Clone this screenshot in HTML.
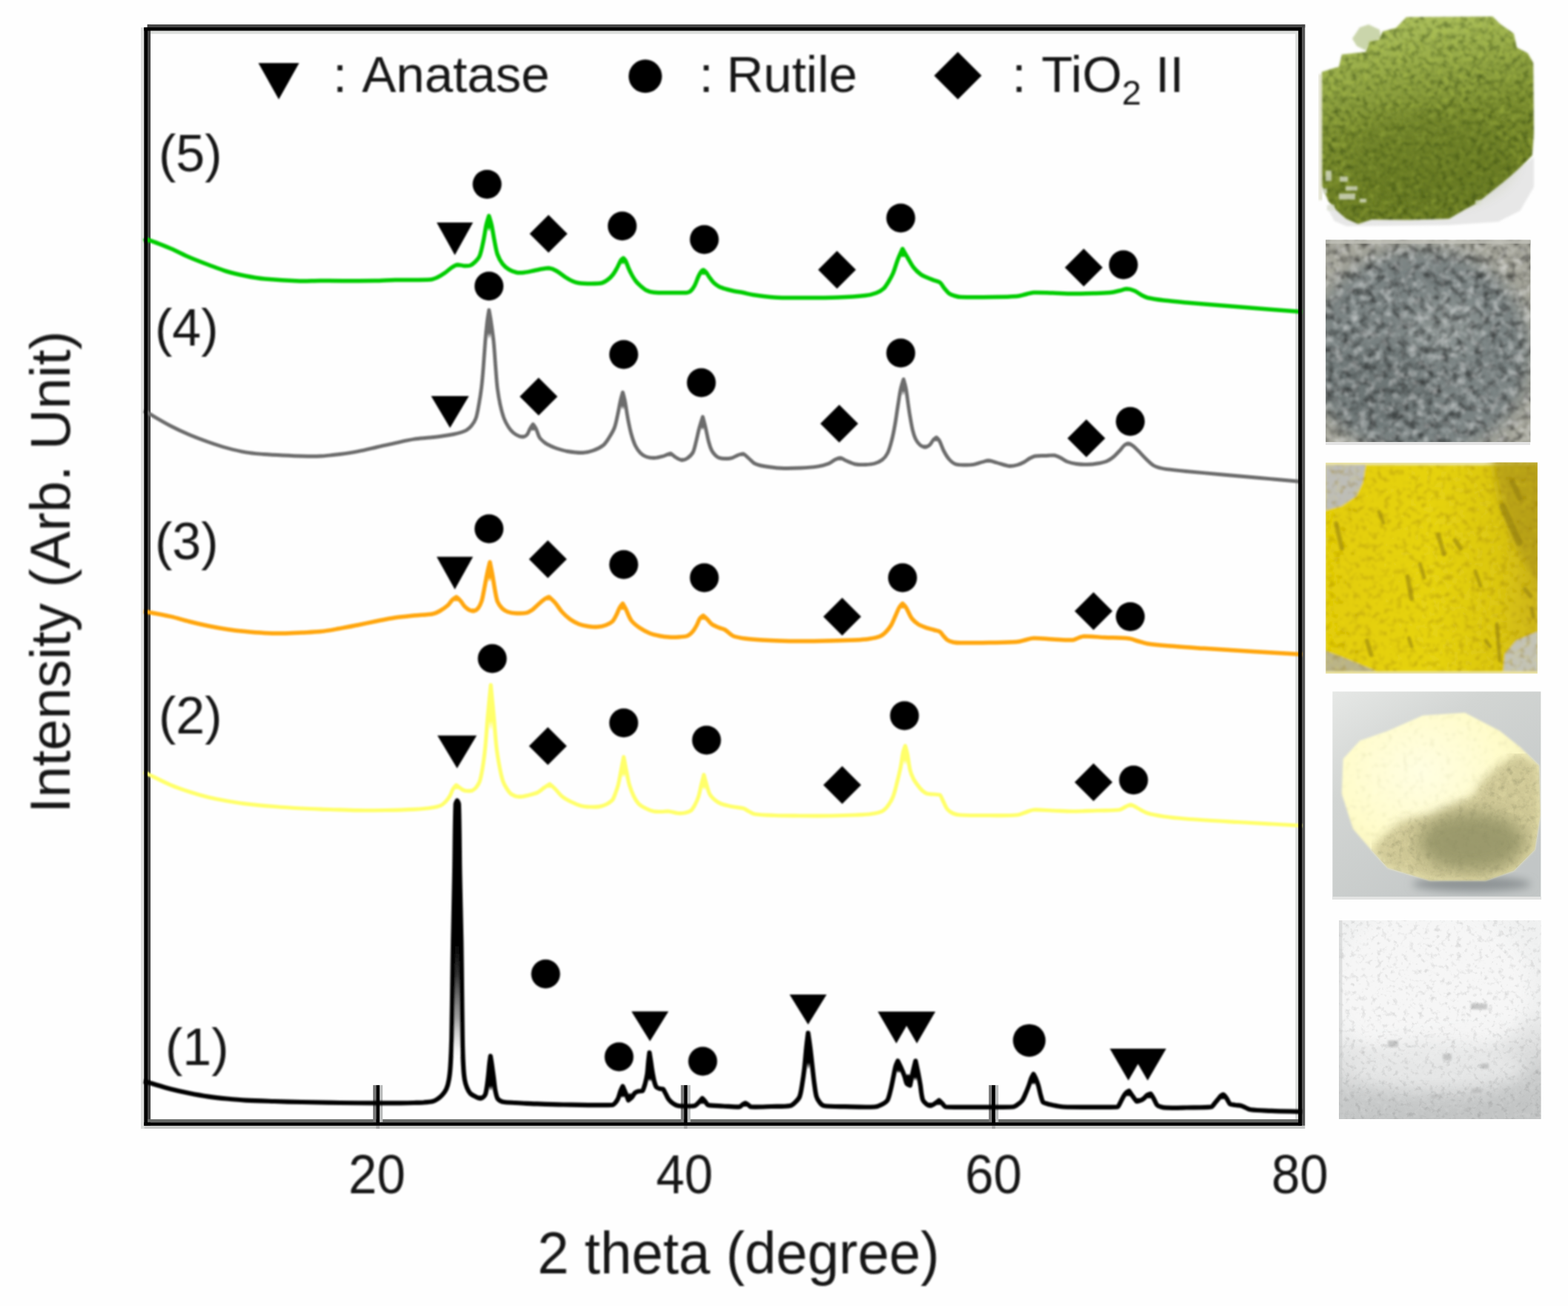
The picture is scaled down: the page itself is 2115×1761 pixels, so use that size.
<!DOCTYPE html>
<html lang="en">
<head>
<meta charset="utf-8">
<title>XRD patterns</title>
<style>
html,body{margin:0;padding:0;background:#fff;}
body{width:2115px;height:1761px;overflow:hidden;}
svg{display:block;}
text{font-family:'Liberation Sans', sans-serif;fill:#151515;}
</style>
</head>
<body>
<svg width="2115" height="1761" viewBox="0 0 2115 1761">
<defs>
<filter id="soft" filterUnits="userSpaceOnUse" x="150" y="0" width="1650" height="1560"><feGaussianBlur stdDeviation="1.15"/></filter>
<filter id="softF" filterUnits="userSpaceOnUse" x="150" y="0" width="1650" height="1560"><feGaussianBlur stdDeviation="0.7"/></filter>
<filter id="softT" filterUnits="userSpaceOnUse" x="0" y="0" width="2115" height="1761"><feGaussianBlur stdDeviation="0.9"/></filter>
<filter id="close" filterUnits="userSpaceOnUse" x="180" y="20" width="1600" height="1520"><feMorphology operator="dilate" radius="2.4" result="d"/><feMorphology in="d" operator="erode" radius="2.4"/></filter>
<linearGradient id="pk1" gradientUnits="userSpaceOnUse" x1="0" y1="1078" x2="0" y2="1425"><stop offset="0" stop-color="#000"/><stop offset="0.55" stop-color="#000"/><stop offset="0.68" stop-color="#333"/><stop offset="0.85" stop-color="#888" stop-opacity="0.8"/><stop offset="1" stop-color="#ccc" stop-opacity="0"/></linearGradient>
</defs>
<rect x="0" y="0" width="2115" height="1761" fill="#fefefe"/>

<defs>
<linearGradient id="gGreen" x1="0.3" y1="0" x2="0.5" y2="1"><stop offset="0" stop-color="#aec260"/><stop offset="0.22" stop-color="#9aae4a"/><stop offset="0.5" stop-color="#7c8f30"/><stop offset="0.8" stop-color="#6f8126"/><stop offset="1" stop-color="#6a7c24"/></linearGradient>
<radialGradient id="gGray" cx="0.45" cy="0.6" r="0.78"><stop offset="0" stop-color="#7a8383"/><stop offset="0.5" stop-color="#7b8484"/><stop offset="0.78" stop-color="#8f948f"/><stop offset="1" stop-color="#adad9f"/></radialGradient>
<linearGradient id="gYel" x1="0" y1="0" x2="1" y2="0"><stop offset="0" stop-color="#e3cd06"/><stop offset="0.5" stop-color="#e6d310"/><stop offset="0.8" stop-color="#dcc710"/><stop offset="1" stop-color="#cdb516"/></linearGradient>
<linearGradient id="gPaleBg" x1="0" y1="0" x2="0.7" y2="1"><stop offset="0" stop-color="#e6e8e6"/><stop offset="0.35" stop-color="#d2d5d3"/><stop offset="1" stop-color="#c2c6c6"/></linearGradient>
<radialGradient id="gPale" cx="0.4" cy="0.35" r="0.7"><stop offset="0" stop-color="#fffee2"/><stop offset="0.6" stop-color="#fffcca"/><stop offset="1" stop-color="#f3ecb4"/></radialGradient>
<linearGradient id="gWhite" x1="0.2" y1="0" x2="0.4" y2="1"><stop offset="0" stop-color="#eff0f0"/><stop offset="0.35" stop-color="#f4f4f4"/><stop offset="0.7" stop-color="#e5e6e6"/><stop offset="0.9" stop-color="#cfd1d1"/><stop offset="1" stop-color="#c6c8c8"/></linearGradient>
<filter id="nGreen" x="0" y="0" width="100%" height="100%" color-interpolation-filters="sRGB">
<feTurbulence type="fractalNoise" baseFrequency="0.13" numOctaves="3" seed="7" result="n"/>
<feColorMatrix in="n" type="matrix" values="0 0 0 0 0.12  0 0 0 0 0.2  0 0 0 0 0.02  1.2 0 0 0 -0.52" result="d"/>
<feComposite in="d" in2="SourceGraphic" operator="in" result="dc"/>
<feColorMatrix in="n" type="matrix" values="0 0 0 0 0.72  0 0 0 0 0.8  0 0 0 0 0.3  0 0.9 0 0 -0.42" result="l"/>
<feComposite in="l" in2="SourceGraphic" operator="in" result="lc"/>
<feMerge><feMergeNode in="SourceGraphic"/><feMergeNode in="dc"/><feMergeNode in="lc"/></feMerge>
</filter>
<filter id="nGray" x="0" y="0" width="100%" height="100%" color-interpolation-filters="sRGB">
<feTurbulence type="fractalNoise" baseFrequency="0.09" numOctaves="3" seed="11" result="n"/>
<feColorMatrix in="n" type="matrix" values="0 0 0 0 0  0 0 0 0 0  0 0 0 0 0  1.2 0 0 0 -0.52" result="d"/>
<feComposite in="d" in2="SourceGraphic" operator="in" result="dc"/>
<feColorMatrix in="n" type="matrix" values="0 0 0 0 1  0 0 0 0 1  0 0 0 0 1  0 1.1 0 0 -0.5" result="l"/>
<feComposite in="l" in2="SourceGraphic" operator="in" result="lc"/>
<feMerge><feMergeNode in="SourceGraphic"/><feMergeNode in="dc"/><feMergeNode in="lc"/></feMerge>
</filter>
<filter id="nYel" x="0" y="0" width="100%" height="100%" color-interpolation-filters="sRGB">
<feTurbulence type="fractalNoise" baseFrequency="0.12" numOctaves="3" seed="5" result="n"/>
<feColorMatrix in="n" type="matrix" values="0 0 0 0 0.55  0 0 0 0 0.42  0 0 0 0 0.0  1.0 0 0 0 -0.5" result="d"/>
<feComposite in="d" in2="SourceGraphic" operator="in" result="dc"/>
<feColorMatrix in="n" type="matrix" values="0 0 0 0 0.95  0 0 0 0 0.88  0 0 0 0 0.25  0 0.5 0 0 -0.25" result="l"/>
<feComposite in="l" in2="SourceGraphic" operator="in" result="lc"/>
<feMerge><feMergeNode in="SourceGraphic"/><feMergeNode in="dc"/><feMergeNode in="lc"/></feMerge>
</filter>
<filter id="nPale" x="0" y="0" width="100%" height="100%" color-interpolation-filters="sRGB">
<feTurbulence type="fractalNoise" baseFrequency="0.14" numOctaves="3" seed="9" result="n"/>
<feColorMatrix in="n" type="matrix" values="0 0 0 0 0.62  0 0 0 0 0.6  0 0 0 0 0.4  0.45 0 0 0 -0.25" result="d"/>
<feComposite in="d" in2="SourceGraphic" operator="in" result="dc"/>
<feColorMatrix in="n" type="matrix" values="0 0 0 0 1  0 0 0 0 1  0 0 0 0 0.92  0 0.4 0 0 -0.2" result="l"/>
<feComposite in="l" in2="SourceGraphic" operator="in" result="lc"/>
<feMerge><feMergeNode in="SourceGraphic"/><feMergeNode in="dc"/><feMergeNode in="lc"/></feMerge>
</filter>
<filter id="nPaleD" x="0" y="0" width="100%" height="100%" color-interpolation-filters="sRGB">
<feTurbulence type="fractalNoise" baseFrequency="0.12" numOctaves="3" seed="13" result="n"/>
<feColorMatrix in="n" type="matrix" values="0 0 0 0 0.45  0 0 0 0 0.45  0 0 0 0 0.32  0.7 0 0 0 -0.33" result="d"/>
<feComposite in="d" in2="SourceGraphic" operator="in" result="dc"/>
<feColorMatrix in="n" type="matrix" values="0 0 0 0 0.95  0 0 0 0 0.92  0 0 0 0 0.7  0 0.7 0 0 -0.32" result="l"/>
<feComposite in="l" in2="SourceGraphic" operator="in" result="lc"/>
<feMerge><feMergeNode in="SourceGraphic"/><feMergeNode in="dc"/><feMergeNode in="lc"/></feMerge>
</filter>
<filter id="nWhite" x="0" y="0" width="100%" height="100%" color-interpolation-filters="sRGB">
<feTurbulence type="fractalNoise" baseFrequency="0.14" numOctaves="3" seed="21" result="n"/>
<feColorMatrix in="n" type="matrix" values="0 0 0 0 0  0 0 0 0 0  0 0 0 0 0  0.32 0 0 0 -0.17" result="d"/>
<feComposite in="d" in2="SourceGraphic" operator="in" result="dc"/>
<feColorMatrix in="n" type="matrix" values="0 0 0 0 1  0 0 0 0 1  0 0 0 0 1  0 0.3 0 0 -0.14" result="l"/>
<feComposite in="l" in2="SourceGraphic" operator="in" result="lc"/>
<feMerge><feMergeNode in="SourceGraphic"/><feMergeNode in="dc"/><feMergeNode in="lc"/></feMerge>
</filter>
<linearGradient id="gWhite2" x1="0" y1="0" x2="0.12" y2="1"><stop offset="0" stop-color="#f0f1f1"/><stop offset="0.55" stop-color="#eeefef"/><stop offset="0.74" stop-color="#dcdddd"/><stop offset="0.87" stop-color="#c9cbcb"/><stop offset="1" stop-color="#c3c5c5"/></linearGradient>
<filter id="b2" x="-10%" y="-10%" width="120%" height="120%"><feGaussianBlur stdDeviation="1.6"/></filter>
<filter id="b5" x="-30%" y="-30%" width="160%" height="160%"><feGaussianBlur stdDeviation="6"/></filter>
<filter id="b10" x="-40%" y="-40%" width="180%" height="180%"><feGaussianBlur stdDeviation="11"/></filter>
<clipPath id="cPale"><rect x="1797.2" y="932.3" width="281.4" height="280.5"/></clipPath>
<clipPath id="cPaleBlob"><polygon points="1919.2,964.7 1975.8,961.0 2023.0,985.5 2051.2,1008.0 2075.8,1032.6 2077.7,1098.6 2070.0,1145.8 2041.8,1174.0 2004.0,1187.3 1928.6,1187.3 1872.0,1170.3 1849.4,1145.8 1824.9,1117.5 1809.8,1070.3 1811.7,1023.2 1834.3,998.7 1872.0,985.5"/></clipPath>
<clipPath id="cYel"><rect x="1788.1" y="623.6" width="285.8" height="285"/></clipPath>
<clipPath id="cGray"><rect x="1788.1" y="323.6" width="276.3" height="272.6"/></clipPath>
<clipPath id="cWhite"><rect x="1806" y="1241.1" width="272.6" height="267.9"/></clipPath>
</defs>
<g>
<polygon points="2069,212 2069,252 2050.5,284 2021,299 1954,303.5 1816,305 1800,298 1790,280 1800,270 1954.5,290 2021,246" fill="#e7e7e7" filter="url(#b2)"/>
<rect x="1778.5" y="100" width="5" height="170" fill="#dcdcc4" opacity="0.8" filter="url(#b2)"/>
<polygon points="1824,52 1834,37 1846,33 1861,40 1863,52 1848,56 1842,68 1830,62" fill="#b9c890" opacity="0.75" filter="url(#b2)"/>
<g filter="url(#b2)"><polygon points="1897.0,22.9 2013.5,22.3 2023.0,32.0 2041.8,45.3 2046.0,64.0 2060.7,71.7 2068.2,84.9 2069.0,180.0 2066.7,209.5 2059.3,216.9 2050.5,225.8 2035.7,239.0 2021.0,250.9 2006.2,262.7 1991.4,274.5 1976.7,281.9 1954.5,295.1 1900.0,296.5 1850.0,296.0 1832.0,302.0 1815.8,295.0 1802.5,283.3 1792.0,271.5 1783.3,251.0 1783.0,97.0 1797.0,92.5 1806.0,90.0 1810.0,73.5 1842.0,70.0 1847.0,55.5 1860.0,53.0 1865.0,42.6 1883.0,37.5" fill="url(#gGreen)" filter="url(#nGreen)"/></g>
<ellipse cx="1930" cy="215" rx="110" ry="60" fill="#566a1c" opacity="0.22" filter="url(#b10)"/>
<g fill="#dde1d2" filter="url(#b2)" opacity="0.75"><rect x="1788" y="230" width="8" height="14"/><rect x="1807" y="238" width="11" height="7"/><rect x="1815" y="251" width="16" height="6"/><rect x="1784" y="254" width="6" height="7"/><rect x="1806" y="261" width="22" height="8"/><rect x="1834" y="268" width="9" height="5"/><rect x="1790" y="276" width="10" height="8"/><rect x="1990" y="270" width="8" height="6"/></g>
</g>
<g clip-path="url(#cGray)"><g filter="url(#b2)"><g filter="url(#nGray)">
<rect x="1780" y="316" width="292" height="288" fill="#a6a69b"/>
<ellipse cx="1916" cy="476" rx="150" ry="142" fill="#7a8383" filter="url(#b10)"/>
<ellipse cx="1860" cy="525" rx="75" ry="55" fill="#5f6868" opacity="0.45" filter="url(#b10)"/>
<ellipse cx="1950" cy="440" rx="55" ry="40" fill="#9da5a3" opacity="0.4" filter="url(#b10)"/>
</g></g>
<rect x="1788" y="323.6" width="277" height="5" fill="#c0c0b8" opacity="0.8"/>
</g>
<rect x="1788" y="596" width="276" height="4" fill="#e3e3e3"/>
<g clip-path="url(#cYel)">
<rect x="1788.1" y="623.6" width="285.8" height="285" fill="#ebe3a2"/>
<g filter="url(#b2)"><g filter="url(#nYel)">
<rect x="1788.1" y="627.5" width="285.8" height="277.5" fill="url(#gYel)"/>
<polygon points="1788,627 1842,627 1838,650 1830,668 1810,682 1788,688" fill="#bdbdb8"/>
<polygon points="1788,878 1805,884 1830,894 1856,905 1788,905" fill="#b9b38a"/>
<polygon points="2074,852 2045,864 2030,882 2028,905 2074,905" fill="#c3c3b6"/>
<polygon points="2090,610 2010,610 2024,680 2040,725 2060,765 2090,810" fill="#b09a14" opacity="0.75" filter="url(#b5)"/>
</g></g>
<g stroke="#8f7a0c" stroke-linecap="round" opacity="0.55" filter="url(#b2)"><line x1="2026.8" y1="683" x2="2049.4" y2="732" stroke-width="9"/><line x1="1898.5" y1="777.4" x2="1904" y2="807.5" stroke-width="6"/><line x1="1940" y1="720.8" x2="1947.5" y2="747" stroke-width="6"/><line x1="1962.6" y1="728.3" x2="1970" y2="739.6" stroke-width="6"/><line x1="1802.3" y1="705.7" x2="1809.8" y2="739.6" stroke-width="6"/><line x1="1915.5" y1="760.4" x2="1921" y2="779" stroke-width="5"/><line x1="1843.8" y1="864" x2="1849.4" y2="883" stroke-width="6"/><line x1="1900.4" y1="860.4" x2="1904" y2="871.7" stroke-width="5"/><line x1="2004" y1="864" x2="2009.8" y2="871.7" stroke-width="5"/><line x1="2057" y1="794.3" x2="2064.5" y2="803.8" stroke-width="6"/><line x1="2066.4" y1="820.8" x2="2068.3" y2="832" stroke-width="5"/><line x1="2019.2" y1="841.5" x2="2023" y2="890.6" stroke-width="5"/><line x1="2040" y1="650" x2="2050" y2="672" stroke-width="7"/><line x1="1860" y1="690" x2="1866" y2="705" stroke-width="5"/><line x1="1990" y1="770" x2="1997" y2="790" stroke-width="5"/></g>
</g>
<g clip-path="url(#cPale)">
<rect x="1797.2" y="932.3" width="281.4" height="280.5" fill="url(#gPaleBg)"/>
<ellipse cx="1985" cy="1192" rx="80" ry="10" fill="#8d9394" filter="url(#b5)"/>
<g filter="url(#b2)"><g filter="url(#nPale)"><polygon points="1919.2,964.7 1975.8,961.0 2023.0,985.5 2051.2,1008.0 2075.8,1032.6 2077.7,1098.6 2070.0,1145.8 2041.8,1174.0 2004.0,1187.3 1928.6,1187.3 1872.0,1170.3 1849.4,1145.8 1824.9,1117.5 1809.8,1070.3 1811.7,1023.2 1834.3,998.7 1872.0,985.5" fill="url(#gPale)"/></g></g>
<g clip-path="url(#cPaleBlob)">
<g filter="url(#nPaleD)"><g filter="url(#b5)"><polygon points="1850.0,1146.0 1872.0,1122.0 1893.0,1106.0 1932.0,1098.0 1958.0,1086.0 1986.0,1074.0 2000.0,1052.0 2022.0,1032.0 2050.0,1016.0 2076.0,1033.0 2077.7,1098.6 2070.0,1145.8 2041.8,1174.0 2004.0,1187.3 1928.6,1187.3 1872.0,1170.3" fill="#cfc896"/></g></g>
<ellipse cx="1985" cy="1135" rx="72" ry="40" fill="#8e8e62" opacity="0.8" filter="url(#b10)"/>
</g>
</g>
<rect x="1797" y="1209" width="282" height="4" fill="#e2e3e2"/>
<g clip-path="url(#cWhite)"><g filter="url(#nWhite)">
<rect x="1800" y="1235" width="285" height="280" fill="url(#gWhite2)"/>
<ellipse cx="1930" cy="1330" rx="135" ry="105" fill="#f7f7f7" opacity="0.9" filter="url(#b10)"/>
<ellipse cx="1940" cy="1438" rx="120" ry="34" fill="#e7e8e8" opacity="0.9" filter="url(#b10)"/>
<g fill="#b9baba" filter="url(#b2)" opacity="0.8"><rect x="1984" y="1353" width="22" height="8"/><rect x="1872" y="1403" width="14" height="9"/><rect x="1946" y="1421" width="12" height="8"/><rect x="1998" y="1434" width="10" height="7"/><rect x="1985" y="1468" width="14" height="6"/><rect x="1930" y="1476" width="16" height="5"/></g>
</g>
<rect x="1806" y="1241" width="4.5" height="268" fill="#c4c5c5" opacity="0.45"/>
</g>
<g filter="url(#softF)">
<rect x="190.0" y="37.0" width="4.4" height="1485.0" fill="#dedfde"/>
<rect x="1747.2" y="42.0" width="4.1" height="1471.0" fill="#dcdedc"/>
<rect x="203.0" y="41.6" width="1548.3" height="4.1" fill="#dcdedc"/>
<rect x="194.4" y="1517.8" width="1565.9" height="4.2" fill="#c9cac9"/>
<rect x="198.8" y="32.9" width="4.3" height="1484.9" fill="#454545"/>
<rect x="1755.8" y="32.9" width="4.5" height="1484.9" fill="#555555"/>
<rect x="198.8" y="32.9" width="1561.5" height="4.2" fill="#464646"/>
<rect x="198.8" y="1509.2" width="1557.2" height="4.4" fill="#666866"/>
<rect x="503.2" y="1463.2" width="4.3" height="50.3" fill="#777"/>
<rect x="511.9" y="1463.2" width="4.3" height="50.3" fill="#bbbdbd"/>
<rect x="507.4" y="1517.8" width="4.6" height="4.2" fill="#a5a5a5"/>
<rect x="918.4" y="1463.2" width="4.3" height="50.3" fill="#777"/>
<rect x="927.1" y="1463.2" width="4.3" height="50.3" fill="#bbbdbd"/>
<rect x="922.6" y="1517.8" width="4.6" height="4.2" fill="#a5a5a5"/>
<rect x="1333.7" y="1463.2" width="4.3" height="50.3" fill="#777"/>
<rect x="1342.4" y="1463.2" width="4.3" height="50.3" fill="#bbbdbd"/>
<rect x="1337.9" y="1517.8" width="4.6" height="4.2" fill="#a5a5a5"/>
</g>
<g filter="url(#soft)">
<polygon points="613.5,1080 620,1080 622.5,1269 624,1425 609.5,1425 611,1269" fill="url(#pk1)"/>
<g filter="url(#close)"><path d="M194.0,1458.0C195.3,1458.3 196.7,1458.6 198.0,1459.0C208.8,1462.1 219.6,1465.6 230.5,1468.5C238.6,1470.6 246.8,1472.4 255.0,1474.0C263.6,1475.7 272.3,1477.3 281.0,1478.6C289.3,1479.8 297.7,1480.7 306.0,1481.5C314.4,1482.3 322.9,1483.1 331.4,1483.6C344.2,1484.3 357.1,1484.6 370.0,1485.0C382.3,1485.4 394.7,1485.7 407.0,1486.0C424.0,1486.4 441.0,1486.8 458.0,1487.0C474.7,1487.2 491.3,1487.3 508.0,1487.4C518.7,1487.4 529.3,1487.4 540.0,1487.3C546.2,1487.3 552.4,1487.2 558.6,1487.0C563.1,1486.9 567.6,1486.9 572.0,1486.5C575.9,1486.2 580.3,1485.9 583.8,1485.0C585.9,1484.5 588.2,1483.2 590.0,1482.0C592.2,1480.5 594.7,1478.5 596.5,1476.5C598.5,1474.2 600.8,1471.2 602.0,1468.5C603.6,1464.9 604.8,1460.2 605.5,1456.0C606.6,1449.9 607.2,1443.3 607.6,1437.0C608.4,1424.7 608.9,1412.3 609.2,1400.0C609.7,1379.0 609.9,1358.0 610.2,1337.0C610.5,1314.3 610.8,1291.7 611.2,1269.0C611.7,1239.3 612.5,1209.7 613.0,1180.0C613.6,1148.0 613.6,1111.9 614.6,1084.0C614.7,1082.6 616.7,1079.5 616.7,1079.5C616.7,1079.5 618.7,1082.6 618.8,1084.0C619.8,1111.9 619.7,1148.0 620.3,1180.0C620.8,1209.7 621.7,1239.3 622.2,1269.0C622.6,1291.7 622.7,1314.3 623.0,1337.0C623.3,1358.0 623.4,1379.0 623.8,1400.0C624.0,1412.3 624.3,1424.7 625.0,1437.0C625.3,1443.3 625.8,1449.9 626.8,1456.0C627.4,1459.7 628.6,1463.6 630.0,1467.0C631.1,1469.6 632.8,1472.8 634.5,1474.5C636.2,1476.2 639.5,1477.7 642.0,1479.0C643.6,1479.8 645.7,1480.9 647.0,1481.0C648.0,1481.1 650.1,1480.6 651.0,1480.0C652.1,1479.3 653.9,1477.3 654.5,1476.0C655.5,1473.7 656.0,1470.0 656.5,1467.0C657.3,1462.5 657.8,1457.9 658.3,1453.4C659.0,1447.6 659.4,1441.8 660.0,1436.0C660.4,1432.0 661.6,1424.0 661.6,1424.0C661.6,1424.0 662.9,1432.0 663.5,1436.0C664.3,1441.8 665.1,1447.6 665.9,1453.4C666.6,1458.9 667.0,1464.6 668.0,1470.0C668.7,1473.7 669.7,1478.4 671.0,1481.0C671.6,1482.2 673.7,1483.7 675.0,1484.5C676.3,1485.2 678.2,1485.8 679.8,1486.0C684.6,1486.6 689.9,1486.7 695.0,1487.0C700.0,1487.3 705.0,1487.6 710.0,1487.8C726.7,1488.4 743.3,1489.2 760.0,1489.5C782.0,1489.9 810.4,1490.6 826.0,1490.0C827.2,1490.0 829.0,1488.1 830.0,1487.0C831.4,1485.4 832.9,1483.1 833.8,1481.0C835.1,1477.9 835.8,1474.2 837.0,1471.0C837.8,1468.9 840.0,1464.7 840.0,1464.7C840.0,1464.7 842.4,1470.2 843.5,1473.0C844.9,1476.5 847.6,1483.6 847.6,1483.6C847.6,1483.6 850.8,1481.3 852.0,1480.0C853.6,1478.2 855.0,1475.0 856.5,1473.6C857.5,1472.7 859.5,1471.9 861.0,1471.5C862.7,1471.1 866.2,1471.4 866.6,1471.0C867.2,1470.3 869.1,1465.0 870.0,1462.0C871.2,1457.6 872.3,1452.9 873.0,1448.3C873.8,1443.0 873.9,1437.4 874.5,1432.0C874.9,1427.8 876.0,1419.3 876.0,1419.3C876.0,1419.3 877.3,1427.8 878.0,1432.0C878.8,1437.4 879.5,1442.9 880.5,1448.3C881.2,1452.2 881.9,1456.3 883.0,1460.0C883.6,1462.0 884.6,1465.0 885.5,1466.0C886.2,1466.8 888.5,1467.6 890.0,1468.0C891.3,1468.4 893.8,1468.1 894.3,1468.5C895.2,1469.2 896.8,1472.8 898.0,1475.0C899.4,1477.5 900.4,1480.3 902.0,1482.4C903.5,1484.4 905.9,1486.6 908.0,1488.0C909.8,1489.3 912.4,1490.6 914.5,1491.0C917.6,1491.6 921.5,1491.5 925.0,1491.5C929.0,1491.5 934.2,1491.7 937.0,1491.0C938.5,1490.6 940.5,1488.5 942.0,1487.0C943.9,1485.2 947.3,1481.0 947.3,1481.0C947.3,1481.0 949.8,1483.6 951.0,1485.0C952.4,1486.6 953.8,1489.7 955.0,1490.0C958.6,1491.0 968.3,1491.1 975.0,1491.5C982.6,1491.9 992.9,1492.9 997.8,1492.5C998.8,1492.4 1000.2,1490.4 1001.5,1489.5C1002.7,1488.7 1004.8,1487.4 1005.4,1487.4C1005.9,1487.4 1007.9,1488.7 1009.0,1489.5C1010.4,1490.4 1011.8,1492.4 1013.0,1492.5C1019.3,1493.0 1031.0,1492.3 1040.0,1492.0C1048.7,1491.8 1059.5,1492.2 1066.0,1491.0C1068.2,1490.6 1071.1,1487.9 1073.0,1486.0C1075.1,1484.0 1077.7,1481.1 1078.6,1478.6C1080.3,1474.1 1081.1,1467.6 1082.0,1462.0C1083.2,1455.0 1084.2,1447.8 1085.0,1440.7C1086.0,1431.8 1086.6,1422.9 1087.5,1414.0C1088.2,1406.9 1090.0,1392.8 1090.0,1392.8C1090.0,1392.8 1092.1,1406.9 1093.0,1414.0C1094.1,1422.9 1095.0,1431.8 1096.0,1440.7C1096.8,1447.8 1097.5,1454.9 1098.5,1462.0C1099.3,1467.5 1099.8,1473.7 1101.3,1478.6C1102.1,1481.4 1104.2,1484.8 1106.0,1487.0C1107.2,1488.5 1109.7,1490.7 1111.4,1491.0C1118.5,1492.1 1130.5,1492.0 1140.0,1492.2C1153.2,1492.5 1167.4,1493.2 1179.6,1492.5C1182.6,1492.3 1186.3,1490.9 1189.0,1489.5C1191.7,1488.1 1195.7,1485.6 1197.0,1483.6C1198.7,1480.9 1199.9,1475.2 1201.0,1471.0C1202.5,1465.2 1203.6,1459.3 1204.8,1453.4C1205.9,1448.3 1206.7,1442.9 1208.0,1438.0C1208.7,1435.5 1211.0,1430.6 1211.0,1430.6C1211.0,1430.6 1214.1,1436.8 1215.5,1440.0C1217.1,1443.6 1218.7,1447.3 1220.0,1451.0C1221.2,1454.3 1221.9,1459.2 1223.0,1461.0C1223.5,1461.9 1227.6,1463.5 1227.6,1463.5C1227.6,1463.5 1229.8,1452.5 1231.0,1447.0C1232.2,1441.5 1235.0,1430.6 1235.0,1430.6C1235.0,1430.6 1237.4,1441.5 1238.5,1447.0C1239.6,1452.5 1240.6,1458.0 1241.5,1463.5C1242.1,1467.3 1242.3,1471.2 1243.0,1475.0C1243.5,1477.9 1243.9,1481.5 1245.0,1483.6C1245.9,1485.4 1248.3,1487.7 1250.0,1489.0C1251.2,1489.9 1254.0,1491.1 1255.0,1491.0C1256.2,1490.9 1259.2,1489.2 1261.0,1488.0C1263.0,1486.8 1266.6,1483.6 1266.7,1483.6C1266.8,1483.6 1269.6,1486.5 1271.0,1488.0C1272.5,1489.5 1274.2,1492.4 1275.5,1492.5C1284.4,1493.4 1305.2,1492.8 1320.0,1492.8C1335.5,1492.8 1353.5,1493.4 1366.4,1492.5C1368.5,1492.4 1371.1,1490.4 1373.0,1489.0C1375.1,1487.5 1377.7,1485.6 1379.0,1483.6C1381.0,1480.7 1382.4,1476.6 1384.0,1473.0C1385.4,1469.9 1386.6,1466.7 1387.8,1463.5C1389.0,1460.4 1389.8,1457.0 1391.0,1454.0C1391.8,1452.0 1394.0,1448.3 1394.0,1448.3C1394.0,1448.3 1396.2,1452.1 1397.0,1454.0C1398.3,1457.1 1399.6,1460.3 1400.5,1463.5C1401.7,1467.6 1402.4,1471.9 1403.5,1476.0C1404.4,1479.4 1405.7,1484.5 1406.8,1486.0C1407.5,1486.9 1410.9,1487.8 1413.0,1488.5C1415.1,1489.2 1417.3,1489.5 1419.4,1490.0C1421.9,1490.5 1424.5,1491.1 1427.0,1491.5C1429.5,1491.9 1432.0,1492.4 1434.5,1492.5C1446.2,1492.9 1458.2,1492.8 1470.0,1492.8C1482.6,1492.8 1503.2,1493.2 1507.7,1492.5C1508.6,1492.4 1510.3,1488.2 1511.5,1486.0C1512.8,1483.6 1513.9,1480.9 1515.3,1478.6C1516.4,1476.8 1517.7,1474.8 1519.0,1473.5C1520.0,1472.5 1522.9,1471.0 1522.9,1471.0C1522.9,1471.0 1525.6,1475.0 1527.0,1477.0C1528.9,1479.7 1532.2,1484.5 1533.0,1485.0C1533.4,1485.3 1536.6,1484.6 1538.0,1484.0C1539.6,1483.3 1541.5,1482.2 1543.0,1481.0C1544.6,1479.7 1546.0,1477.5 1547.5,1476.5C1548.6,1475.7 1551.9,1474.7 1552.0,1474.8C1552.2,1474.9 1554.8,1478.9 1556.0,1481.0C1557.7,1483.9 1559.1,1488.2 1560.7,1490.0C1561.6,1491.0 1564.2,1492.0 1566.0,1492.5C1568.3,1493.2 1571.0,1493.6 1573.4,1493.7C1582.1,1494.0 1591.1,1493.7 1600.0,1493.5C1611.3,1493.3 1627.5,1493.6 1634.0,1492.5C1635.4,1492.3 1637.4,1488.9 1639.0,1487.0C1640.7,1485.0 1642.3,1483.0 1644.0,1481.0C1645.0,1479.8 1646.0,1478.3 1647.0,1477.5C1647.8,1476.9 1650.1,1475.9 1650.3,1476.0C1650.6,1476.1 1653.3,1479.2 1654.5,1481.0C1656.1,1483.4 1657.8,1487.7 1659.0,1488.7C1660.0,1489.5 1663.7,1489.6 1666.0,1490.0C1668.7,1490.4 1671.8,1490.4 1674.3,1491.0C1676.2,1491.5 1678.1,1492.7 1680.0,1493.5C1682.3,1494.5 1684.7,1496.0 1687.0,1496.3C1695.5,1497.4 1705.7,1497.4 1715.0,1497.8C1726.7,1498.3 1738.3,1498.5 1750.0,1498.8C1752.0,1498.9 1754.0,1498.9 1756.0,1499.0" fill="none" stroke="#000" stroke-width="6.2" stroke-linejoin="round" stroke-linecap="butt"/></g>
<g filter="url(#close)"><path d="M194.0,1041.0C195.3,1041.7 196.7,1042.4 198.0,1043.0C208.8,1048.2 219.5,1053.9 230.5,1058.6C238.4,1062.0 246.8,1064.8 255.0,1067.5C263.5,1070.3 272.3,1072.9 281.0,1075.0C289.2,1077.0 297.6,1078.5 306.0,1080.0C314.4,1081.5 322.9,1082.8 331.4,1083.8C344.2,1085.3 357.1,1086.4 370.0,1087.5C382.3,1088.5 394.7,1089.3 407.0,1090.0C419.7,1090.7 432.3,1091.0 445.0,1091.5C457.7,1091.9 470.3,1092.5 483.0,1092.7C495.3,1092.9 507.7,1092.7 520.0,1092.5C532.9,1092.3 545.8,1092.0 558.6,1091.4C565.7,1091.0 573.0,1090.5 580.0,1089.5C584.7,1088.8 590.2,1087.9 594.0,1086.4C596.4,1085.4 599.0,1083.0 601.0,1081.0C603.1,1078.9 605.1,1076.2 606.6,1073.7C608.3,1070.8 609.3,1066.9 611.0,1064.0C612.1,1062.1 615.4,1058.6 615.4,1058.6C615.4,1058.6 618.5,1060.9 620.0,1062.0C621.4,1063.0 622.8,1064.4 624.2,1065.0C625.8,1065.7 628.2,1066.4 630.0,1066.5C632.1,1066.7 635.2,1066.6 636.8,1066.0C638.4,1065.4 640.8,1063.5 642.0,1062.0C643.9,1059.7 646.0,1056.5 647.0,1053.6C648.8,1048.1 650.0,1041.2 651.0,1035.0C652.5,1026.1 653.6,1017.0 654.5,1008.0C655.9,993.7 656.7,979.3 658.0,965.0C659.2,951.2 662.0,923.6 662.0,923.6C662.0,923.6 664.7,951.2 666.0,965.0C667.3,979.3 668.1,993.8 669.7,1008.0C670.7,1017.0 672.3,1026.1 674.0,1035.0C675.2,1041.2 676.5,1047.8 678.5,1053.6C679.7,1057.1 681.9,1060.8 684.0,1064.0C685.6,1066.5 687.9,1069.6 690.0,1071.0C692.4,1072.6 697.1,1074.3 700.0,1074.5C703.3,1074.7 708.1,1073.4 712.0,1072.5C716.4,1071.5 721.3,1070.5 725.0,1068.7C728.1,1067.2 731.0,1064.1 734.0,1062.0C736.5,1060.3 741.3,1057.0 741.6,1057.0C742.0,1057.0 746.6,1061.6 749.0,1064.0C752.1,1067.1 754.8,1071.1 758.0,1073.7C761.4,1076.5 765.9,1078.9 770.0,1081.0C774.2,1083.1 778.9,1085.2 783.3,1086.4C787.2,1087.5 791.8,1087.8 796.0,1088.0C800.1,1088.2 804.6,1088.2 808.5,1087.6C811.6,1087.1 815.2,1085.9 818.0,1084.5C820.7,1083.1 824.3,1080.8 826.0,1078.8C827.7,1076.8 828.8,1073.0 830.0,1070.0C831.4,1066.3 832.8,1062.4 833.8,1058.6C835.3,1052.5 836.3,1046.2 837.5,1040.0C838.8,1033.6 841.3,1020.7 841.3,1020.7C841.3,1020.7 843.7,1033.6 845.0,1040.0C846.3,1046.2 847.2,1052.6 849.0,1058.6C850.5,1063.8 852.6,1069.2 855.0,1074.0C856.7,1077.4 859.1,1081.4 861.5,1083.8C863.9,1086.2 867.7,1088.4 871.0,1090.0C874.3,1091.7 878.2,1093.3 881.7,1094.0C884.8,1094.7 888.6,1094.5 892.0,1094.5C895.3,1094.5 898.8,1093.7 902.0,1094.0C906.0,1094.4 910.5,1096.1 914.5,1096.5C917.5,1096.8 921.1,1096.6 924.0,1096.0C926.6,1095.5 930.4,1094.3 932.0,1093.0C933.9,1091.5 936.0,1087.8 937.5,1085.0C939.4,1081.5 941.1,1077.5 942.3,1073.7C943.9,1068.7 944.7,1063.2 946.0,1058.0C947.1,1053.6 949.4,1044.7 949.4,1044.7C949.4,1044.7 951.7,1053.6 953.0,1058.0C954.3,1062.4 955.5,1067.4 957.4,1071.0C958.8,1073.6 961.6,1076.5 964.0,1078.5C966.4,1080.5 969.7,1082.7 972.6,1083.8C976.9,1085.5 982.2,1086.5 987.0,1087.5C992.3,1088.6 998.3,1088.7 1003.0,1090.0C1005.3,1090.7 1007.6,1092.8 1010.0,1094.0C1012.6,1095.3 1015.4,1097.3 1018.0,1097.7C1026.0,1099.0 1036.0,1099.2 1045.0,1099.5C1056.2,1099.9 1067.4,1099.9 1078.6,1100.0C1092.4,1100.1 1106.2,1100.2 1120.0,1100.0C1131.3,1099.8 1142.7,1099.5 1154.0,1099.0C1161.0,1098.7 1168.2,1098.5 1175.0,1097.5C1179.9,1096.8 1186.1,1095.8 1189.7,1094.0C1192.4,1092.6 1195.9,1088.9 1198.0,1086.0C1200.6,1082.5 1203.2,1077.9 1204.8,1073.7C1207.0,1067.9 1208.4,1061.3 1210.0,1055.0C1211.8,1047.8 1213.6,1040.6 1215.0,1033.4C1216.2,1027.3 1216.7,1021.0 1218.0,1015.0C1218.7,1011.8 1221.0,1005.6 1221.0,1005.6C1221.0,1005.6 1223.2,1013.2 1224.0,1017.0C1225.4,1024.0 1225.9,1031.6 1227.6,1038.4C1228.5,1042.3 1230.2,1046.4 1232.0,1050.0C1233.5,1053.0 1235.7,1055.9 1237.7,1058.6C1239.6,1061.2 1241.8,1063.9 1244.0,1066.0C1245.7,1067.5 1248.1,1069.4 1250.0,1070.0C1252.4,1070.8 1256.0,1070.7 1259.0,1071.0C1262.0,1071.3 1267.0,1071.3 1268.0,1072.0C1269.2,1072.9 1271.3,1078.7 1273.0,1082.0C1274.6,1085.2 1276.0,1089.1 1278.0,1091.4C1279.8,1093.5 1283.4,1095.9 1286.0,1097.0C1288.7,1098.1 1292.5,1098.8 1295.7,1099.0C1308.4,1099.6 1321.9,1099.5 1335.0,1099.5C1347.1,1099.5 1360.0,1099.9 1371.4,1099.0C1375.2,1098.7 1379.1,1096.7 1383.0,1095.5C1386.7,1094.4 1390.5,1092.2 1394.0,1092.0C1401.9,1091.5 1411.3,1092.7 1420.0,1093.0C1429.0,1093.3 1438.0,1094.0 1447.0,1094.0C1458.0,1094.0 1469.0,1093.3 1480.0,1093.0C1490.0,1092.7 1501.4,1093.1 1510.0,1092.0C1512.6,1091.7 1515.3,1089.2 1518.0,1088.0C1520.4,1086.9 1524.0,1084.8 1525.4,1085.0C1527.3,1085.2 1531.8,1088.4 1535.0,1090.0C1539.3,1092.2 1543.6,1095.1 1548.0,1096.5C1554.8,1098.6 1562.6,1099.9 1570.0,1101.0C1579.4,1102.4 1589.1,1103.3 1598.6,1104.0C1622.3,1105.8 1646.2,1107.1 1670.0,1108.5C1696.7,1110.1 1723.4,1111.5 1750.0,1113.0C1752.0,1113.1 1754.0,1113.3 1756.0,1113.5" fill="none" stroke="#ffff6a" stroke-width="5.2" stroke-linejoin="round" stroke-linecap="butt"/></g>
<g filter="url(#close)"><path d="M194.0,824.5C195.3,824.7 196.7,824.8 198.0,825.0C208.8,827.0 219.8,829.0 230.5,831.4C238.7,833.3 246.8,836.0 255.0,838.0C263.6,840.2 272.3,842.2 281.0,844.0C289.3,845.7 297.6,847.2 306.0,848.5C314.4,849.8 322.9,850.8 331.4,851.6C339.6,852.4 347.8,853.1 356.0,853.5C364.6,853.9 373.4,854.1 382.0,854.0C390.3,853.9 398.7,853.4 407.0,853.0C415.5,852.6 424.0,852.5 432.4,851.6C440.9,850.7 449.5,849.0 458.0,847.5C466.3,846.0 474.7,844.5 483.0,842.8C491.3,841.1 499.7,839.2 508.0,837.5C516.4,835.8 524.9,834.0 533.4,832.7C541.5,831.5 549.8,830.8 558.0,830.0C566.6,829.1 575.8,829.1 583.8,827.7C586.9,827.2 590.2,825.6 593.0,824.0C596.7,821.9 600.8,819.1 604.0,816.3C606.2,814.3 607.9,811.1 610.0,809.0C611.5,807.5 615.2,805.0 615.4,805.0C615.6,805.0 619.4,808.2 621.0,810.0C623.1,812.3 624.6,815.4 626.7,817.6C628.4,819.4 631.0,821.5 633.0,822.5C634.7,823.3 638.2,824.1 639.4,823.9C640.6,823.6 643.8,821.5 645.0,820.0C646.7,817.8 648.5,814.0 649.5,811.0C651.1,806.0 651.9,800.3 653.0,795.0C654.4,788.0 655.5,781.0 657.0,774.0C658.1,768.6 660.8,758.0 660.8,758.0C660.8,758.0 663.0,768.7 664.0,774.0C665.3,781.0 666.2,788.0 667.5,795.0C668.5,800.4 669.3,806.4 671.0,811.0C672.2,814.0 674.8,817.7 677.0,820.0C678.9,821.9 682.2,824.1 684.8,825.0C688.2,826.2 693.0,826.8 697.0,827.0C701.2,827.2 706.3,827.2 710.0,826.4C712.5,825.9 715.5,824.1 717.7,822.6C720.2,820.8 722.5,818.2 725.0,816.0C727.6,813.6 730.2,811.0 733.0,809.0C735.2,807.4 739.9,804.9 740.4,805.0C741.1,805.2 746.5,810.1 749.0,813.0C752.2,816.7 754.7,821.4 758.0,825.0C761.2,828.6 765.1,832.2 769.0,835.0C772.5,837.5 776.8,839.9 780.8,841.5C784.5,843.0 789.0,843.9 793.0,844.5C797.2,845.1 801.9,845.6 806.0,845.3C809.5,845.1 813.7,844.2 817.0,843.0C820.0,841.9 823.9,839.9 826.0,838.0C827.9,836.2 829.6,832.7 831.0,830.0C832.9,826.5 834.1,822.4 836.0,819.0C837.0,817.2 840.0,813.8 840.0,813.8C840.0,813.8 842.8,818.6 844.0,821.0C846.6,826.1 848.4,832.4 851.4,836.5C853.9,839.9 858.3,843.4 862.0,846.0C866.4,849.0 871.8,852.0 876.7,854.0C880.8,855.7 885.6,856.6 890.0,857.5C893.9,858.3 898.0,858.8 902.0,859.0C906.3,859.3 910.7,859.3 915.0,859.0C919.0,858.8 924.0,858.6 927.0,857.5C929.2,856.7 932.2,854.0 934.0,852.0C936.2,849.5 938.1,846.1 939.8,843.0C941.4,840.1 942.4,836.4 944.0,834.0C945.0,832.5 948.5,830.0 948.6,830.0C948.7,830.0 952.3,833.3 954.0,835.0C956.1,837.1 957.8,839.9 960.0,841.5C962.4,843.3 966.0,844.7 969.0,846.0C971.8,847.2 975.1,847.7 977.6,849.0C979.8,850.2 981.8,852.4 984.0,854.0C985.9,855.4 988.0,857.3 990.0,858.0C994.3,859.4 1000.0,860.3 1005.0,861.0C1012.6,862.0 1020.3,862.5 1028.0,863.0C1035.3,863.5 1042.7,863.8 1050.0,864.0C1059.5,864.3 1069.1,864.5 1078.6,864.5C1092.4,864.5 1106.2,864.3 1120.0,864.0C1131.3,863.8 1142.7,863.5 1154.0,863.0C1160.0,862.7 1166.1,862.4 1172.0,861.5C1177.0,860.7 1182.8,859.7 1187.0,858.0C1189.7,856.9 1192.8,854.2 1195.0,852.0C1197.5,849.5 1200.1,846.1 1202.0,843.0C1204.3,839.1 1206.0,834.3 1208.0,830.0C1209.7,826.3 1211.1,822.3 1213.0,819.0C1214.1,817.1 1217.4,813.8 1217.4,813.8C1217.4,813.8 1220.8,817.1 1222.0,819.0C1224.9,823.6 1226.9,829.9 1230.0,834.0C1232.2,836.9 1235.9,840.0 1239.0,842.0C1242.1,843.9 1246.3,845.3 1250.0,846.6C1253.2,847.8 1256.7,848.5 1260.0,849.5C1262.7,850.3 1266.2,850.8 1268.0,852.0C1269.7,853.1 1271.3,856.1 1273.0,858.0C1274.6,859.7 1276.3,861.9 1278.0,863.0C1280.1,864.3 1283.4,865.4 1286.0,866.0C1289.0,866.6 1292.5,866.8 1295.7,866.8C1308.7,866.9 1321.9,866.7 1335.0,866.5C1347.1,866.3 1359.6,866.4 1371.4,865.5C1375.2,865.2 1379.1,863.9 1383.0,863.0C1386.7,862.2 1390.5,860.6 1394.0,860.5C1402.2,860.3 1411.3,861.6 1420.0,862.0C1429.0,862.4 1439.0,863.5 1447.0,863.0C1449.5,862.9 1452.3,860.9 1455.0,860.0C1457.3,859.2 1459.8,858.0 1462.0,858.0C1470.6,857.9 1480.7,859.0 1490.0,859.5C1501.0,860.0 1512.5,859.8 1523.0,861.0C1527.0,861.4 1531.0,863.4 1535.0,864.5C1539.3,865.7 1543.6,867.4 1548.0,868.0C1560.0,869.7 1572.7,870.5 1585.0,871.5C1598.0,872.6 1611.0,873.4 1624.0,874.3C1646.0,875.8 1668.0,877.2 1690.0,878.5C1710.0,879.7 1730.0,880.8 1750.0,882.0C1752.0,882.1 1754.0,882.3 1756.0,882.5" fill="none" stroke="#ffa608" stroke-width="5.5" stroke-linejoin="round" stroke-linecap="butt"/></g>
<g filter="url(#close)"><path d="M194.0,554.0C195.3,554.7 196.7,555.3 198.0,556.0C208.8,562.1 219.5,568.7 230.5,574.5C238.4,578.7 246.7,582.5 255.0,586.0C263.5,589.6 272.3,592.9 281.0,596.0C289.2,598.9 297.6,601.7 306.0,604.0C314.3,606.3 322.9,608.5 331.4,609.9C339.4,611.3 347.8,611.8 356.0,612.5C364.6,613.2 373.3,613.6 382.0,614.0C390.3,614.4 398.7,614.8 407.0,615.0C415.5,615.2 424.0,615.4 432.4,615.0C440.9,614.6 449.5,613.6 458.0,612.5C466.3,611.4 474.7,610.2 483.0,608.6C491.4,607.0 499.7,604.9 508.0,603.0C516.5,601.1 524.9,599.1 533.4,597.3C541.8,595.5 550.2,593.5 558.6,592.2C565.6,591.1 572.9,590.8 580.0,590.0C585.5,589.4 591.0,588.8 596.5,588.0C601.7,587.3 606.9,586.5 612.0,585.5C615.4,584.8 618.8,584.0 622.0,583.0C624.5,582.2 627.3,581.3 629.3,580.0C631.6,578.5 634.3,576.2 636.0,574.0C638.2,571.2 640.7,567.4 641.9,564.0C643.9,558.3 644.8,551.4 646.0,545.0C647.4,537.4 648.6,529.7 649.5,522.0C650.6,513.0 651.3,504.0 652.0,495.0C652.9,483.7 653.6,472.3 654.5,461.0C655.2,452.3 656.0,443.6 657.0,435.0C657.7,429.3 659.6,418.0 659.6,418.0C659.6,418.0 661.7,429.3 662.5,435.0C663.8,443.6 665.0,452.3 665.9,461.0C667.0,472.3 667.6,483.7 668.5,495.0C669.3,504.7 669.8,514.4 671.0,524.0C672.0,531.7 673.3,539.5 675.0,547.0C676.3,552.7 677.8,558.7 679.8,564.0C681.3,568.1 683.7,572.4 686.0,576.0C687.7,578.7 690.1,581.5 692.4,583.5C694.5,585.3 697.5,587.0 700.0,588.0C701.7,588.7 704.7,589.2 706.0,589.0C707.3,588.8 710.0,587.2 711.0,586.0C712.5,584.2 713.5,580.6 715.0,578.0C716.2,575.9 719.0,572.0 719.0,572.0C719.0,572.0 722.0,575.9 723.0,578.0C724.8,581.7 725.8,586.8 727.8,590.0C729.4,592.5 732.5,595.0 735.0,597.0C737.0,598.6 739.6,599.8 742.0,601.0C744.7,602.3 747.6,603.6 750.5,604.5C755.2,606.0 760.2,607.7 765.0,608.5C771.7,609.6 779.3,610.7 785.8,610.5C790.3,610.4 795.7,609.1 800.0,607.5C804.5,605.9 810.1,603.2 813.6,600.5C816.3,598.4 818.9,594.3 821.0,591.0C823.8,586.6 826.9,581.7 828.7,577.0C830.7,571.8 831.7,565.7 833.0,560.0C834.5,553.4 835.5,546.6 837.0,540.0C837.8,536.3 840.0,529.0 840.0,529.0C840.0,529.0 842.2,537.0 843.0,541.0C844.5,548.9 845.5,557.0 847.0,565.0C848.3,571.7 849.6,578.5 851.4,585.0C852.9,590.4 854.7,596.2 857.0,601.0C858.7,604.5 861.5,608.5 864.0,611.0C866.0,613.0 869.4,615.2 872.0,616.0C875.3,617.1 880.3,617.6 884.0,617.4C887.4,617.3 891.4,616.0 895.0,615.0C898.2,614.1 903.0,611.3 904.4,611.5C905.7,611.7 909.4,615.5 912.0,617.0C914.3,618.4 917.9,620.4 919.6,620.5C921.2,620.6 925.2,619.2 927.0,618.0C929.5,616.2 933.3,612.7 934.7,610.0C936.7,606.2 937.7,600.0 939.0,595.0C940.5,589.4 941.5,583.6 943.0,578.0C944.4,572.6 947.9,562.0 947.9,562.0C947.9,562.0 950.7,572.6 952.0,578.0C953.4,584.0 954.4,590.1 956.0,596.0C957.0,599.8 958.3,604.1 960.0,607.4C961.1,609.7 963.2,612.2 965.0,614.0C966.3,615.3 968.4,616.9 970.0,617.4C972.7,618.2 976.8,618.5 980.0,618.5C982.5,618.5 985.4,618.1 987.7,617.4C990.4,616.5 993.2,614.5 996.0,613.5C998.1,612.7 1001.8,611.7 1002.9,612.0C1004.3,612.5 1007.7,616.0 1010.0,618.0C1012.7,620.3 1015.3,623.6 1018.0,625.0C1021.2,626.7 1026.0,627.8 1030.0,628.5C1037.6,629.8 1045.7,630.9 1053.4,631.3C1062.1,631.7 1071.2,631.4 1080.0,631.0C1087.9,630.6 1096.1,630.0 1103.8,628.8C1108.5,628.1 1113.7,626.7 1118.0,625.0C1121.1,623.8 1124.0,620.9 1127.0,619.5C1129.1,618.5 1132.5,617.3 1134.0,617.5C1135.9,617.7 1139.3,620.4 1142.0,621.5C1146.0,623.2 1150.3,625.2 1154.3,626.0C1158.5,626.8 1163.5,626.7 1168.0,626.5C1171.8,626.3 1176.1,626.0 1179.6,625.0C1183.0,624.0 1187.4,622.0 1190.0,620.0C1192.6,618.0 1195.7,614.1 1197.2,611.0C1199.7,605.9 1201.4,599.0 1203.0,593.0C1204.8,586.1 1206.1,579.0 1207.3,572.0C1208.7,564.0 1209.7,556.0 1211.0,548.0C1212.3,540.0 1213.3,531.9 1215.0,524.0C1215.9,519.8 1218.7,511.4 1218.7,511.4C1218.7,511.4 1221.2,519.8 1222.0,524.0C1223.3,530.9 1224.0,538.0 1225.0,545.0C1225.8,550.7 1226.6,556.4 1227.6,562.0C1228.6,568.0 1229.6,574.2 1231.0,580.0C1232.0,584.0 1233.3,588.5 1235.0,592.0C1236.4,594.8 1238.9,598.2 1241.0,600.0C1242.5,601.3 1246.5,603.0 1247.8,603.0C1249.0,603.0 1252.6,601.3 1254.0,600.0C1255.8,598.4 1257.2,595.1 1259.0,593.0C1260.1,591.8 1263.0,589.7 1263.0,589.7C1263.0,589.7 1266.1,592.4 1267.0,594.0C1269.2,598.1 1270.7,603.6 1273.0,608.0C1275.0,611.8 1277.4,616.0 1280.0,619.0C1282.1,621.4 1285.5,624.5 1288.0,625.5C1290.9,626.7 1296.1,626.9 1300.0,627.0C1304.4,627.1 1309.1,627.0 1313.4,626.3C1317.2,625.7 1321.1,624.0 1325.0,623.0C1327.8,622.3 1331.2,620.9 1333.6,621.0C1336.9,621.2 1341.2,623.0 1345.0,624.0C1350.4,625.5 1356.4,628.0 1361.3,628.5C1364.4,628.8 1368.7,627.9 1372.0,627.0C1375.2,626.1 1378.5,624.6 1381.5,623.0C1384.1,621.6 1386.4,619.4 1389.0,618.0C1391.4,616.8 1394.2,615.4 1396.7,615.0C1400.7,614.3 1405.6,614.7 1410.0,614.5C1414.0,614.3 1418.5,613.6 1422.0,614.0C1424.5,614.3 1427.5,615.8 1430.0,617.0C1433.3,618.6 1436.4,621.2 1439.6,622.5C1443.3,623.9 1447.9,624.9 1452.0,625.5C1457.0,626.2 1462.4,626.4 1467.4,626.3C1471.5,626.2 1475.9,625.7 1480.0,625.0C1484.2,624.3 1488.9,623.5 1492.6,622.0C1495.8,620.7 1499.2,618.2 1502.0,616.0C1504.8,613.7 1507.4,610.7 1510.0,608.0C1512.1,605.8 1513.9,602.8 1516.0,601.0C1517.4,599.8 1520.6,598.0 1521.6,598.0C1522.7,598.0 1526.2,599.7 1528.0,601.0C1530.6,602.9 1533.1,605.6 1535.5,608.0C1538.7,611.2 1541.7,614.8 1545.0,618.0C1548.4,621.3 1552.1,625.2 1555.7,627.5C1558.2,629.1 1561.9,630.1 1565.0,631.0C1567.7,631.8 1570.6,632.2 1573.4,632.6C1582.2,633.7 1591.1,634.6 1600.0,635.5C1616.3,637.1 1632.7,638.5 1649.0,640.0C1666.0,641.5 1683.0,643.0 1700.0,644.5C1716.7,646.0 1733.3,647.5 1750.0,649.0C1752.0,649.2 1754.0,649.3 1756.0,649.5" fill="none" stroke="#6c6c6c" stroke-width="4.9" stroke-linejoin="round" stroke-linecap="butt"/></g>
<g filter="url(#close)"><path d="M194.0,325.0C195.5,324.3 197.5,322.7 198.4,323.0C204.8,324.8 219.7,330.7 230.0,335.0C238.7,338.6 247.0,343.3 255.7,347.0C264.0,350.6 272.5,353.8 281.0,357.0C289.3,360.1 297.6,363.5 306.0,366.0C314.1,368.4 322.6,370.3 331.0,372.0C339.5,373.7 348.1,375.2 356.7,376.0C372.3,377.5 388.3,378.5 404.0,379.0C413.3,379.3 422.7,378.6 432.0,378.6C456.3,378.5 480.7,378.9 505.0,378.6C514.3,378.5 523.7,377.7 533.0,377.5C548.8,377.2 565.7,377.9 580.5,377.0C583.6,376.8 587.1,375.3 590.0,374.0C593.4,372.4 596.8,370.2 600.0,368.0C603.1,365.9 605.9,363.1 609.0,361.0C611.3,359.5 614.6,357.3 616.6,357.0C618.8,356.7 622.9,358.3 626.0,358.5C628.6,358.6 632.0,358.7 634.0,358.0C636.1,357.2 639.1,354.9 641.0,353.0C643.2,350.8 645.9,347.7 647.0,345.0C649.2,339.3 650.6,331.7 652.0,325.0C653.6,317.7 654.4,310.2 656.0,303.0C656.9,299.0 659.5,291.0 659.5,291.0C659.5,291.0 662.1,299.0 663.0,303.0C664.6,310.2 665.5,317.7 667.0,325.0C668.2,331.0 669.1,337.5 671.0,343.0C672.6,347.4 675.3,352.5 678.0,356.0C680.1,358.7 683.6,361.6 686.5,363.4C689.4,365.2 693.7,366.8 697.0,367.5C699.8,368.1 703.6,367.8 706.7,367.5C711.1,367.0 715.6,365.9 720.0,365.0C724.0,364.2 728.0,363.2 732.0,362.5C734.8,362.0 738.0,361.2 740.4,361.5C743.2,361.9 747.2,363.4 750.0,365.0C754.4,367.4 758.6,371.2 763.0,374.0C765.9,375.8 769.0,377.7 772.0,379.0C774.5,380.1 777.4,381.1 780.0,381.5C785.5,382.3 791.7,382.5 797.5,382.5C802.3,382.5 808.0,382.5 812.0,381.5C814.6,380.9 817.7,378.8 820.0,377.0C822.5,375.1 825.1,372.5 827.0,370.0C829.3,367.0 831.1,363.4 833.0,360.0C834.6,357.1 835.9,353.5 837.5,351.0C838.2,349.9 840.8,348.0 840.8,348.0C840.8,348.0 843.3,350.6 844.0,352.0C845.5,355.0 846.5,358.7 848.0,362.0C849.5,365.4 851.2,368.8 853.0,372.0C854.5,374.6 856.2,377.2 858.0,379.5C859.7,381.6 861.9,383.7 864.0,385.5C866.5,387.6 869.3,390.2 872.0,391.5C874.7,392.9 878.5,394.0 881.7,394.3C889.0,395.0 897.2,394.8 905.0,394.8C912.3,394.8 920.8,395.1 927.0,394.5C928.6,394.3 930.9,393.1 932.0,392.0C933.7,390.4 935.7,387.4 937.0,385.0C938.9,381.3 940.2,376.9 942.0,373.0C943.1,370.6 944.6,367.9 946.0,366.0C946.6,365.2 948.5,364.0 948.7,364.0C948.9,364.0 951.2,365.5 952.0,366.5C953.8,368.6 955.2,371.6 957.0,374.0C958.7,376.4 960.5,379.1 962.5,381.0C964.6,383.0 967.4,385.2 970.0,386.5C972.9,388.0 976.6,389.0 980.0,390.0C983.3,391.0 986.6,391.8 990.0,392.5C994.0,393.3 998.0,393.7 1002.0,394.5C1006.5,395.4 1011.0,396.8 1015.5,397.5C1025.2,399.0 1035.2,400.4 1045.0,401.0C1056.1,401.7 1067.4,401.5 1078.6,401.5C1095.7,401.5 1112.9,401.6 1130.0,401.0C1142.3,400.6 1155.0,400.0 1167.0,398.6C1172.0,398.0 1177.5,396.7 1182.0,395.0C1185.4,393.7 1189.5,391.3 1192.0,389.0C1194.6,386.6 1196.9,382.4 1199.0,379.0C1201.1,375.5 1203.2,371.8 1204.8,368.0C1207.2,362.2 1208.7,355.9 1211.0,350.0C1212.9,345.1 1217.4,335.5 1217.4,335.5C1217.4,335.5 1221.7,343.2 1224.0,347.0C1226.8,351.7 1229.4,356.9 1232.6,361.0C1235.1,364.3 1238.8,367.6 1242.0,370.0C1244.2,371.7 1247.3,372.8 1250.0,374.0C1253.3,375.5 1256.7,376.7 1260.0,378.0C1262.7,379.0 1266.3,379.6 1268.0,381.0C1270.0,382.6 1271.9,386.5 1274.0,389.0C1276.0,391.4 1278.3,394.4 1280.6,396.0C1282.5,397.3 1285.5,398.3 1288.0,399.0C1290.4,399.7 1293.2,400.4 1295.7,400.5C1310.1,400.9 1325.2,400.7 1340.0,400.5C1350.5,400.4 1361.2,400.3 1371.4,399.5C1375.2,399.2 1379.1,397.9 1383.0,397.0C1386.7,396.2 1390.4,394.7 1394.0,394.5C1402.3,394.1 1411.3,394.8 1420.0,395.0C1429.0,395.3 1438.0,395.9 1447.0,396.0C1456.3,396.1 1465.7,395.8 1475.0,395.5C1482.5,395.3 1490.2,395.2 1497.6,394.5C1501.7,394.1 1505.9,392.9 1510.0,392.0C1513.3,391.3 1517.2,389.5 1520.0,389.5C1522.8,389.5 1527.0,390.7 1530.0,392.0C1533.3,393.4 1536.6,396.2 1540.0,398.0C1542.5,399.3 1545.3,400.9 1548.0,401.5C1554.9,403.1 1562.7,404.1 1570.0,405.0C1579.9,406.2 1590.0,407.1 1600.0,408.0C1608.0,408.7 1616.0,409.3 1624.0,410.0C1642.7,411.5 1661.3,413.0 1680.0,414.5C1703.3,416.4 1726.7,418.2 1750.0,420.0C1752.0,420.2 1754.0,420.3 1756.0,420.5" fill="none" stroke="#04cc04" stroke-width="5.5" stroke-linejoin="round" stroke-linecap="butt"/></g>
</g>
<g filter="url(#softF)">
<rect x="194.3" y="36.9" width="4.7" height="1480.9" fill="#000"/>
<rect x="1751.2" y="36.9" width="4.8" height="1480.9" fill="#000"/>
<rect x="194.3" y="36.9" width="1561.7" height="4.6" fill="#000"/>
<rect x="194.3" y="1513.4" width="1561.7" height="4.5" fill="#000"/>
<rect x="507.4" y="1463.2" width="4.6" height="52.8" fill="#000"/>
<rect x="922.6" y="1463.2" width="4.6" height="52.8" fill="#000"/>
<rect x="1337.9" y="1463.2" width="4.6" height="52.8" fill="#000"/>
</g>
<g fill="#000" filter="url(#soft)">
<circle cx="657.0" cy="248.4" r="19.5"/>
<circle cx="839.3" cy="304.7" r="19.5"/>
<circle cx="950.0" cy="322.9" r="19.5"/>
<circle cx="1215.0" cy="293.9" r="19.5"/>
<circle cx="1515.3" cy="357.0" r="19.5"/>
<circle cx="659.6" cy="385.7" r="19.5"/>
<circle cx="841.3" cy="477.9" r="19.5"/>
<circle cx="946.0" cy="516.0" r="19.5"/>
<circle cx="1215.0" cy="476.0" r="19.5"/>
<circle cx="1524.6" cy="568.2" r="19.5"/>
<circle cx="659.6" cy="713.0" r="19.5"/>
<circle cx="841.3" cy="761.3" r="19.5"/>
<circle cx="950.0" cy="779.0" r="19.5"/>
<circle cx="1217.4" cy="779.0" r="19.5"/>
<circle cx="1524.6" cy="831.4" r="19.5"/>
<circle cx="664.0" cy="888.0" r="19.5"/>
<circle cx="841.3" cy="974.8" r="19.5"/>
<circle cx="953.0" cy="998.0" r="19.5"/>
<circle cx="1220.0" cy="965.0" r="19.5"/>
<circle cx="1529.0" cy="1051.8" r="19.5"/>
<circle cx="736.0" cy="1313.3" r="19.5"/>
<circle cx="835.0" cy="1425.0" r="19.5"/>
<circle cx="947.9" cy="1431.0" r="19.5"/>
<circle cx="1388.3" cy="1402.9" r="22"/>
<polygon points="714.4,315.3 739.9,289.8 765.4,315.3 739.9,340.8"/>
<polygon points="1103.5,363.8 1129.0,338.3 1154.5,363.8 1129.0,389.3"/>
<polygon points="1436.3,360.7 1461.8,335.2 1487.3,360.7 1461.8,386.2"/>
<polygon points="701.0,534.7 726.5,509.2 752.0,534.7 726.5,560.2"/>
<polygon points="1106.5,571.3 1132.0,545.8 1157.5,571.3 1132.0,596.8"/>
<polygon points="1439.8,591.0 1465.3,565.5 1490.8,591.0 1465.3,616.5"/>
<polygon points="713.5,754.0 739.0,728.5 764.5,754.0 739.0,779.5"/>
<polygon points="1110.5,831.4 1136.0,805.9 1161.5,831.4 1136.0,856.9"/>
<polygon points="1449.5,823.9 1475.0,798.4 1500.5,823.9 1475.0,849.4"/>
<polygon points="713.5,1006.0 739.0,980.5 764.5,1006.0 739.0,1031.5"/>
<polygon points="1110.5,1058.6 1136.0,1033.1 1161.5,1058.6 1136.0,1084.1"/>
<polygon points="1449.5,1054.8 1475.0,1029.3 1500.5,1054.8 1475.0,1080.3"/>
<polygon points="589.0,300.0 638.0,300.0 613.5,344.0"/>
<polygon points="581.5,534.0 632.5,534.0 607.0,577.0"/>
<polygon points="589.0,750.7 638.0,750.7 613.5,794.8"/>
<polygon points="590.0,991.7 643.0,991.7 616.5,1036.0"/>
<polygon points="851.7,1363.8 901.7,1363.8 876.7,1404.0"/>
<polygon points="1065.0,1341.0 1115.0,1341.0 1090.0,1381.4"/>
<polygon points="1184.0,1364.0 1234.0,1364.0 1209.0,1407.0"/>
<polygon points="1211.7,1364.0 1261.7,1364.0 1236.7,1407.0"/>
<polygon points="1497.0,1414.0 1547.0,1414.0 1522.0,1457.0"/>
<polygon points="1523.0,1414.0 1573.0,1414.0 1548.0,1457.0"/>
<polygon points="348.5,85.0 403.5,85.0 376.0,134.0"/>
<circle cx="870.4" cy="102.8" r="22.5"/>
<polygon points="1260.0,102.0 1292.0,70.0 1324.0,102.0 1292.0,134.0"/>
</g>
<g filter="url(#softT)">
<text y="123.5" font-size="69" xml:space="preserve"><tspan x="449">:</tspan><tspan x="472.9"> Anatase</tspan></text>
<text y="123.5" font-size="69" xml:space="preserve"><tspan x="943">:</tspan><tspan x="960.8"> Rutile</tspan></text>
<text y="123.5" font-size="69" xml:space="preserve"><tspan x="1365">:</tspan><tspan x="1386.8"> TiO</tspan><tspan font-size="47" dy="17">2</tspan><tspan dy="-17"> II</tspan></text>
<text x="214" y="231" font-size="70">(5)</text>
<text x="209" y="465.5" font-size="70">(4)</text>
<text x="209" y="753.7" font-size="70">(3)</text>
<text x="214" y="989" font-size="70">(2)</text>
<text x="223" y="1435.7" font-size="70">(1)</text>
<text transform="translate(508.4,1609.3) scale(1,1.07)" font-size="69" text-anchor="middle">20</text>
<text transform="translate(923.3,1609.3) scale(1,1.07)" font-size="69" text-anchor="middle">40</text>
<text transform="translate(1340,1609.3) scale(1,1.07)" font-size="69" text-anchor="middle">60</text>
<text transform="translate(1753.3,1609.3) scale(1,1.07)" font-size="69" text-anchor="middle">80</text>
<text transform="translate(725,1717) scale(1,1.05)" font-size="76.2">2 theta (degree)</text>
<text transform="translate(94,1096.5) rotate(-90)" font-size="76">Intensity (Arb. Unit)</text>
</g>
</svg>
</body>
</html>
